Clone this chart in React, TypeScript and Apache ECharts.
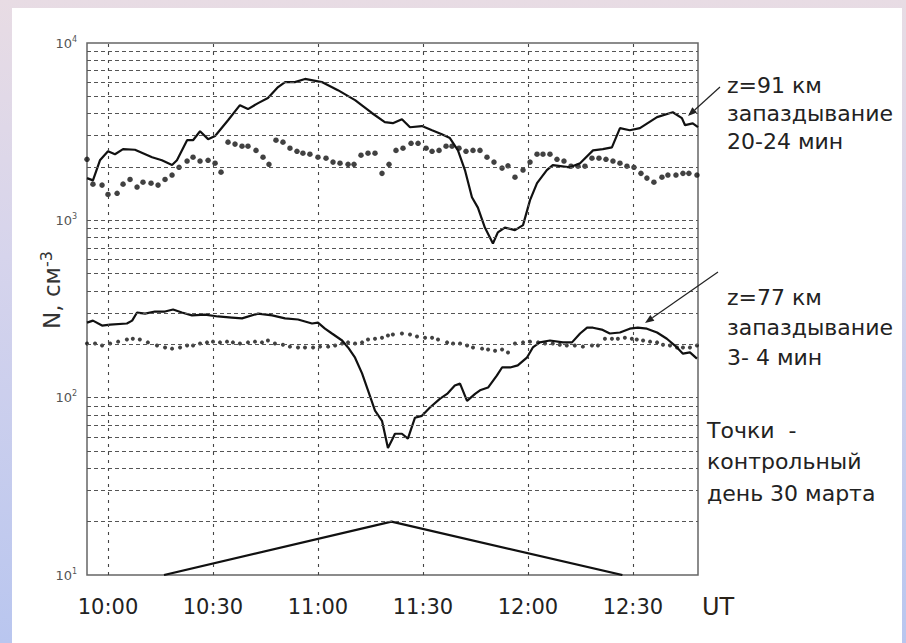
import React, { useEffect, useRef } from "react";
import * as echarts from "echarts";

// x values: minutes after 10:00 UT
const xTicks = [0, 30, 60, 90, 120, 150];
const yTicks = [10, 100, 1000, 10000];
const yGridMinor = [20, 30, 40, 50, 60, 70, 80, 90, 200, 300, 400, 500, 600, 700, 800, 900, 2000, 3000, 4000, 5000, 6000, 7000, 8000, 9000];
const yGridMajor = [100, 1000];

const solid91 = [[-6,1730],[-4.3,1680],[-2.3,2180],[0,2450],[2,2360],[4.3,2520],[7.7,2500],[12.6,2270],[15.4,2180],[18.3,2050],[19.7,2180],[22.6,2830],[24.3,2830],[26.3,3180],[28.6,2870],[30.6,2990],[34.3,3670],[37.7,4460],[40,4240],[42.9,4580],[45.7,4890],[48.6,5640],[50.6,6020],[53.4,6020],[56.3,6270],[61.1,6020],[65.7,5420],[70.6,4760],[75.4,4030],[79.1,3580],[81.4,3530],[84,3720],[86.3,3350],[89.7,3400],[92.6,3220],[95.4,3060],[97.7,2910],[100,2480],[102,1920],[104,1350],[105.7,1180],[107.7,910],[110,740],[111.4,855],[113.4,910],[116.3,880],[118.6,940],[120.6,1300],[122.6,1620],[125.4,1920],[127.1,2050],[132,1990],[134.9,2100],[138.6,2480],[141.4,2520],[144,2580],[146.3,3310],[149.1,3220],[152,3310],[156.9,3820],[161.4,4070],[164,3770],[164.9,3440],[167.1,3520],[168.6,3350]];

const dots91 = [[-6,2210],[-4.3,1600],[-1.7,1580],[0,1400],[2.6,1420],[4.3,1600],[6.3,1700],[8.3,1540],[10,1640],[12.3,1620],[14.3,1580],[16.3,1700],[18.3,1800],[20.3,1990],[22.6,2160],[24.3,2270],[26.3,2160],[28.6,2180],[30.6,2100],[32.3,1870],[34.3,2760],[36.3,2690],[38.3,2620],[40,2620],[42.3,2480],[44.3,2270],[46,2070],[48,2830],[50,2760],[52,2550],[54,2450],[55.7,2390],[57.7,2360],[60,2270],[62.3,2240],[64.3,2130],[66.3,2100],[68.6,2070],[70.3,2070],[72.3,2330],[74.3,2390],[76.3,2390],[78.3,1840],[80.3,2070],[82.3,2480],[84.3,2550],[86.6,2720],[88.6,2720],[90.9,2550],[92.6,2450],[94.6,2480],[96.6,2620],[98.3,2620],[100.3,2550],[102.3,2450],[104.3,2480],[106.3,2480],[108.3,2270],[110.3,2130],[112.6,1970],[114.3,2030],[116.3,1750],[118.6,1920],[120.6,2130],[122.6,2360],[124.3,2360],[126.3,2360],[128.3,2210],[130.3,2160],[132.3,2020],[134.3,2020],[136.3,2020],[138.3,2240],[140.3,2240],[142.3,2210],[144.3,2160],[146.3,2100],[148.3,2020],[150.3,1990],[152.3,1840],[154,1730],[156,1640],[158.3,1750],[160,1800],[162.3,1800],[164.3,1840],[166,1840],[168.3,1800]];

const solid77 = [[-6,265],[-4.3,272],[-1.7,255],[0.6,258],[5.4,262],[6.9,272],[8.3,302],[10.6,298],[13.4,306],[16.3,306],[18.6,314],[21.1,302],[24,291],[27.7,294],[31.4,287],[35.4,283],[38.3,280],[42.9,298],[46.9,291],[50.6,280],[54.3,276],[58.3,262],[60,265],[62,245],[64,230],[66.9,210],[68.6,192],[70.6,168],[72.6,137],[74.3,110],[76.3,84.5],[78.3,74],[80,52],[81.4,59],[82,62.6],[84,62.6],[85.7,58.7],[87.7,77],[89.7,79],[92,88],[94.9,98.7],[96.9,105],[99.1,117],[100.6,120],[102.6,96],[104.9,105],[106.3,110],[108.6,114],[111.1,133],[112.6,148],[114.9,148],[117.1,152],[119.7,168],[121.4,192],[123.4,205],[126.3,210],[130,205],[132.6,205],[134.9,230],[136.9,248],[138.6,248],[141.1,242],[143.4,230],[146.3,233],[149.1,245],[151.4,248],[154,245],[156.9,233],[159.7,215],[162.6,192],[164.3,177],[166.3,180],[168.3,166]];

const dots77 = [[-6,202],[-3.7,202],[-1.7,197],[0.6,202],[2.9,207],[5.4,213],[7.1,215],[9.1,213],[11.4,205],[14,197],[16.3,192],[18.3,189],[20.6,192],[22.6,197],[24.3,197],[26.3,202],[28.3,205],[30,207],[32,205],[34,207],[35.7,205],[37.7,202],[40,205],[42,207],[44,205],[45.7,210],[47.7,202],[50,199],[52,194],[54.3,192],[56.3,192],[58.6,192],[60.6,194],[62.9,194],[64.9,197],[66.9,202],[68.6,205],[70.6,202],[72.6,205],[74.3,213],[76.3,215],[78.3,218],[80,224],[81.4,227],[84,230],[86.3,227],[88.3,221],[90.6,218],[92.6,218],[94.3,213],[96.9,205],[98.6,202],[100.6,202],[102.6,197],[104.3,192],[106.9,189],[108.6,187],[110.6,184],[112.6,187],[114.3,180],[116.3,202],[118.6,205],[120.6,207],[122.9,205],[124.9,202],[127.1,202],[129.1,199],[131.1,197],[133.4,197],[135.7,194],[138.3,197],[140,197],[142,215],[144,215],[145.7,215],[147.7,218],[149.7,215],[151.1,213],[152.9,210],[154.9,207],[156.9,205],[158.6,199],[160.6,197],[162.6,192],[164.3,192],[166.3,192],[168.3,197]];

const triangle = [[16,10],[81,20],[147,10]];

const FONT = "DejaVu Sans";

function timeLabel(m: number) {
  const t = 600 + m;
  const h = Math.floor(t / 60);
  const mm = t % 60;
  return `${h}:${String(mm).padStart(2, "0")}`;
}

function arrow(x1: number, y1: number, x2: number, y2: number) {
  const ang = Math.atan2(y2 - y1, x2 - x1);
  const L = 9, W = 3.5;
  const bx = x2 - L * Math.cos(ang), by = y2 - L * Math.sin(ang);
  const px = -Math.sin(ang) * W, py = Math.cos(ang) * W;
  return [
    { type: "line", shape: { x1, y1, x2: bx, y2: by }, style: { stroke: "#222", lineWidth: 1.2 }, z: 10 },
    { type: "polygon", shape: { points: [[x2, y2], [bx + px, by + py], [bx - px, by - py]] }, style: { fill: "#222" }, z: 10 },
  ];
}

function txt(x: number, y: number, text: string, size = 22) {
  return {
    type: "text",
    x, y,
    style: { text, fill: "#222", font: `${size}px "${FONT}"`, textAlign: "left", textVerticalAlign: "middle" },
    z: 10,
  };
}

export default function App() {
  const ref = useRef<HTMLDivElement>(null);
  useEffect(() => {
    if (!ref.current) return;
    const chart = echarts.init(ref.current, null, { renderer: "svg" });
    const gridDash = { type: [4, 3] as any, color: "#555", width: 1.1 };
    const option: any = {
      animation: false,
      backgroundColor: "transparent",
      grid: { left: 87, top: 43, width: 611, height: 532, show: true, borderColor: "#666", borderWidth: 1.5, backgroundColor: "transparent" },
      xAxis: {
        type: "value",
        min: -6,
        max: 168.6,
        axisLine: { show: false },
        axisTick: { show: false },
        splitLine: { show: false },
        axisLabel: {
          customValues: xTicks,
          formatter: (v: number) => timeLabel(v),
          color: "#222",
          fontFamily: FONT,
          fontSize: 21,
          margin: 21,
        },
      },
      yAxis: {
        type: "log",
        logBase: 10,
        min: 10,
        max: 10000,
        interval: 1,
        axisLine: { show: false },
        axisTick: { show: false },
        splitLine: { show: false },
        axisLabel: {
          margin: 10,
          formatter: (v: number) => `{b|10}{s|${Math.round(Math.log10(v))}}`,
          rich: {
            b: { fontSize: 13, color: "#555", fontFamily: FONT, lineHeight: 16 },
            s: { fontSize: 8, color: "#555", fontFamily: FONT, verticalAlign: "top", lineHeight: 8 },
          },
        },
      },
      series: [
        {
          type: "line",
          data: triangle,
          showSymbol: false,
          lineStyle: { color: "#111", width: 2.2 },
          z: 1,
          markLine: {
            silent: true,
            symbol: ["none", "none"],
            label: { show: false },
            lineStyle: gridDash,
            data: [
              ...yGridMinor.map((v) => ({ yAxis: v })),
              ...yGridMajor.map((v) => ({ yAxis: v })),
              ...xTicks.map((v) => ({ xAxis: v, lineStyle: { type: [3, 5], color: "#444", width: 1.1 } })),
            ],
          },
        },
        { type: "line", data: solid91, showSymbol: false, lineStyle: { color: "#111", width: 2.2 }, z: 3 },
        { type: "line", data: solid77, showSymbol: false, lineStyle: { color: "#111", width: 2.2 }, z: 3 },
        { type: "scatter", data: dots91, symbolSize: 5.5, itemStyle: { color: "#111" }, z: 4 },
        { type: "scatter", data: dots77, symbolSize: 4, itemStyle: { color: "#111" }, z: 4 },
      ],
      graphic: [
        {
          type: "text",
          x: 52, y: 290, rotation: Math.PI / 2,
          style: {
            text: "{a|N, см}{s|-3}",
            rich: {
              a: { fontSize: 23, fontFamily: FONT, fill: "#333", lineHeight: 28 },
              s: { fontSize: 16, fontFamily: FONT, fill: "#333", verticalAlign: "top", lineHeight: 17 },
            },
            textAlign: "center",
            textVerticalAlign: "middle",
          },
        },
        {
          type: "text", x: 702, y: 607,
          style: { text: "UT", fill: "#2a2218", font: `24px "${FONT}"`, textAlign: "left", textVerticalAlign: "middle" },
        },
        txt(727, 85, "z=91 км"),
        txt(727, 113, "запаздывание"),
        txt(727, 141, "20-24 мин"),
        txt(727, 297, "z=77 км"),
        txt(727, 327, "запаздывание"),
        txt(727, 357, "3- 4 мин"),
        txt(707, 430, "Точки  -"),
        txt(707, 461, "контрольный"),
        txt(707, 493, "день 30 марта"),
        ...arrow(720, 87, 688, 116),
        ...arrow(718, 272, 645, 323),
      ],
    };
    chart.setOption(option);
    return () => chart.dispose();
  }, []);
  return (
    <div style={{ position: "fixed", left: 0, top: 0, width: 906, height: 643, background: "linear-gradient(to bottom, #e8dce4 0%, #d6d4ec 40%, #b9c6ef 100%)" }}>
      <div style={{ position: "absolute", left: 12, top: 8, width: 890, height: 635, background: "#ffffff" }} />
      <div ref={ref} style={{ position: "absolute", left: 0, top: 0, width: 906, height: 643 }} />
    </div>
  );
}
